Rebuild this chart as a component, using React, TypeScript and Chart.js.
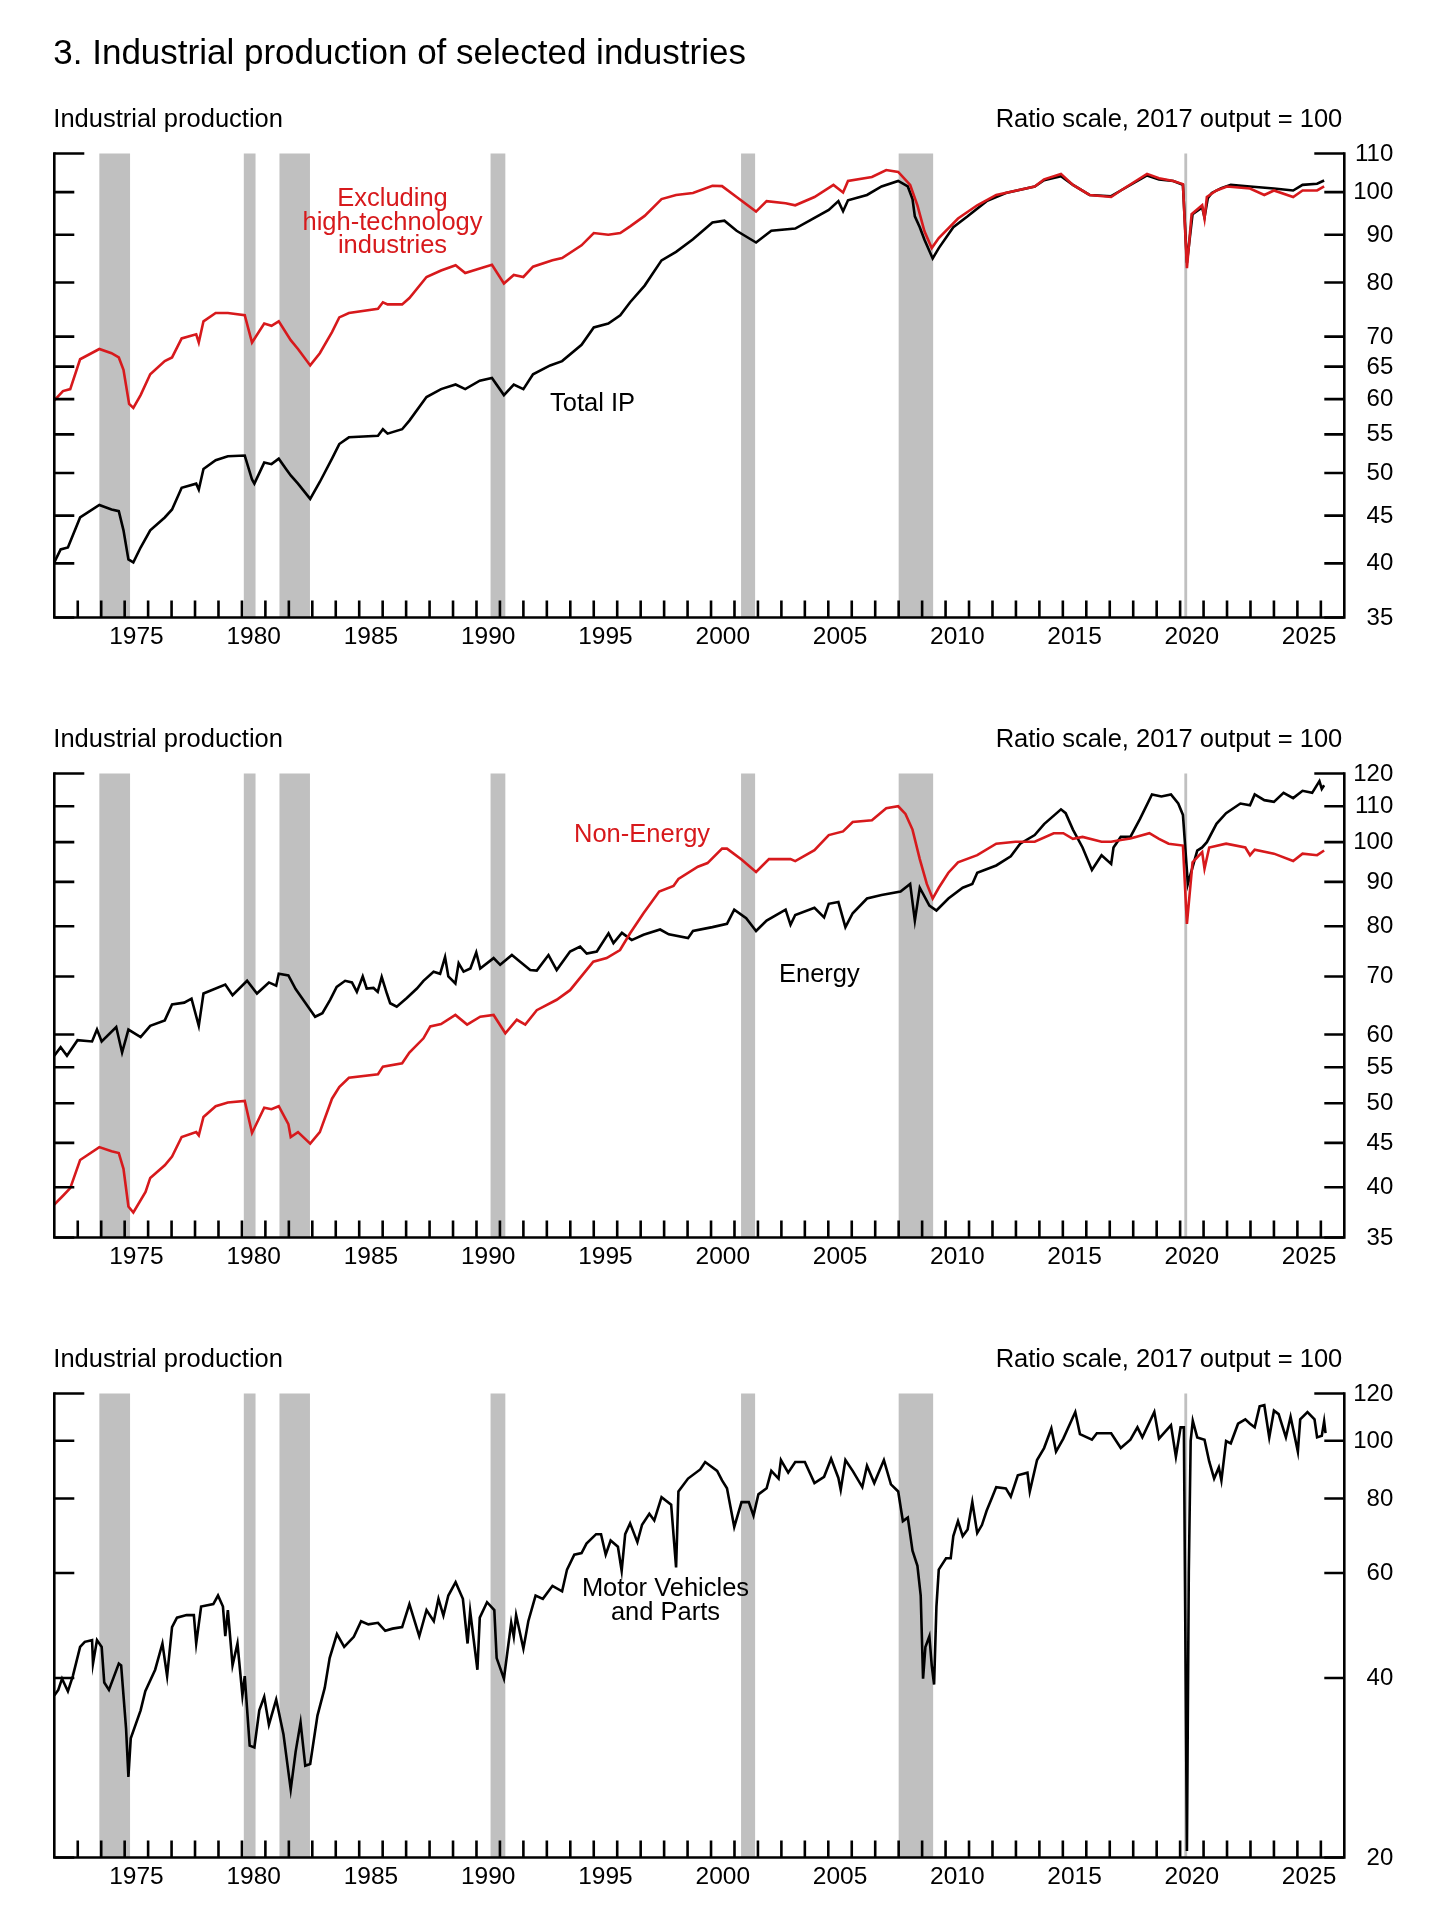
import { useEffect, useRef } from "react";
import { Chart, registerables } from "chart.js";
import type { ChartConfiguration, Plugin } from "chart.js";

Chart.register(...registerables);

const FONT = '"Liberation Sans", Arial, Helvetica, sans-serif';
const RED = "#d7191c";
const BLACK = "#000000";
const SHADE = "#c0c0c0";

type Pt = [number, number];

// NBER recessions, peak to trough (decimal years)
const recessions: Pt[] = [
  [1973.92, 1975.23],
  [1980.08, 1980.58],
  [1981.6, 1982.9],
  [1990.6, 1991.23],
  [2001.28, 2001.88],
  [2008.0, 2009.47],
  [2020.18, 2020.3],
];

const yearLabels = [1975, 1980, 1985, 1990, 1995, 2000, 2005, 2010, 2015, 2020, 2025];

const ticksTop = [110, 100, 90, 80, 70, 65, 60, 55, 50, 45, 40, 35];
const ticksMid = [120, 110, 100, 90, 80, 70, 60, 55, 50, 45, 40, 35];
const ticksBottom = [120, 100, 80, 60, 40, 20];

const totalIP: Pt[] = [
  [1972.0, 40.1], [1972.27, 41.4], [1972.58, 41.6], [1973.1, 44.8], [1973.92, 46.2],
  [1974.44, 45.7], [1974.75, 45.5], [1974.95, 43.4], [1975.16, 40.4], [1975.37, 40.1],
  [1975.68, 41.6], [1976.09, 43.4], [1976.71, 44.8], [1977.02, 45.7], [1977.43, 48.2],
  [1978.05, 48.7], [1978.16, 48.0], [1978.36, 50.5], [1978.88, 51.6], [1979.4, 52.1],
  [1980.12, 52.2], [1980.43, 49.2], [1980.53, 48.7], [1980.95, 51.3], [1981.26, 51.1],
  [1981.57, 51.8], [1981.88, 50.5], [1982.08, 49.7], [1982.39, 48.7], [1982.91, 46.9],
  [1983.32, 48.9], [1983.84, 51.8], [1984.15, 53.7], [1984.56, 54.6], [1985.8, 54.8],
  [1986.01, 55.7], [1986.21, 55.1], [1986.83, 55.7], [1987.14, 56.9], [1987.87, 60.3],
  [1988.49, 61.5], [1989.11, 62.2], [1989.52, 61.5], [1990.14, 62.8], [1990.66, 63.2],
  [1991.17, 60.6], [1991.59, 62.2], [1992.0, 61.5], [1992.41, 63.8], [1993.14, 65.2],
  [1993.65, 65.9], [1994.48, 68.6], [1995.0, 71.6], [1995.62, 72.3], [1996.13, 73.8],
  [1996.55, 76.2], [1997.17, 79.4], [1997.89, 84.5], [1998.51, 86.3], [1999.23, 89.0],
  [2000.06, 92.8], [2000.57, 93.2], [2001.09, 90.9], [2001.92, 88.3], [2002.57, 90.9],
  [2003.59, 91.4], [2004.2, 93.2], [2005.02, 95.7], [2005.43, 97.8], [2005.63, 95.4],
  [2005.84, 98.0], [2006.65, 99.3], [2007.27, 101.4], [2007.98, 102.8], [2008.39, 101.4],
  [2008.59, 98.3], [2008.69, 94.2], [2008.9, 91.7], [2009.1, 88.9], [2009.45, 84.9],
  [2009.71, 87.1], [2010.33, 91.7], [2010.94, 94.2], [2011.75, 97.8], [2012.57, 99.8],
  [2013.8, 101.4], [2014.2, 103.0], [2014.92, 104.0], [2015.43, 101.8], [2016.14, 99.3],
  [2017.06, 99.0], [2017.47, 100.4], [2018.59, 104.2], [2019.1, 103.2], [2019.71, 102.8],
  [2020.12, 101.8], [2020.29, 84.0], [2020.53, 94.7], [2020.94, 96.3], [2021.04, 94.0],
  [2021.18, 98.5], [2021.35, 99.8], [2021.75, 101.0], [2022.16, 101.8], [2022.98, 101.4],
  [2024.0, 100.9], [2024.82, 100.4], [2025.22, 101.8], [2025.84, 102.1], [2026.14, 102.9],
];

const exHighTech: Pt[] = [
  [1972.0, 59.8], [1972.37, 61.2], [1972.68, 61.5], [1973.1, 66.2], [1973.92, 67.9],
  [1974.44, 67.2], [1974.75, 66.5], [1974.95, 64.5], [1975.19, 59.3], [1975.37, 58.7],
  [1975.68, 60.6], [1976.09, 63.8], [1976.71, 65.9], [1977.02, 66.5], [1977.43, 69.7],
  [1978.05, 70.4], [1978.16, 69.0], [1978.36, 72.7], [1978.88, 74.2], [1979.4, 74.2],
  [1980.12, 73.8], [1980.43, 69.0], [1980.95, 72.3], [1981.26, 71.9], [1981.57, 72.7],
  [1982.08, 69.4], [1982.39, 67.9], [1982.91, 65.2], [1983.32, 67.2], [1983.84, 70.8],
  [1984.15, 73.4], [1984.56, 74.2], [1985.8, 75.0], [1986.01, 76.2], [1986.21, 75.8],
  [1986.83, 75.8], [1987.14, 77.0], [1987.87, 81.1], [1988.49, 82.4], [1989.11, 83.5],
  [1989.52, 81.9], [1990.14, 82.8], [1990.66, 83.6], [1991.17, 79.8], [1991.59, 81.5],
  [1992.0, 81.1], [1992.41, 83.2], [1993.24, 84.5], [1993.65, 85.0], [1994.48, 87.7],
  [1995.0, 90.4], [1995.62, 90.0], [1996.13, 90.4], [1996.55, 91.9], [1997.17, 94.3],
  [1997.89, 98.3], [1998.51, 99.3], [1999.23, 99.8], [2000.06, 101.6], [2000.47, 101.5],
  [2001.09, 98.8], [2001.92, 95.3], [2002.37, 97.8], [2003.18, 97.3], [2003.59, 96.8],
  [2004.41, 98.8], [2005.22, 101.8], [2005.63, 99.9], [2005.84, 102.8], [2006.86, 103.8],
  [2007.47, 105.6], [2007.98, 105.1], [2008.49, 101.8], [2008.8, 96.8], [2009.1, 90.8],
  [2009.41, 87.1], [2009.71, 89.3], [2010.53, 93.7], [2011.35, 96.8], [2012.16, 99.3],
  [2013.8, 101.4], [2014.2, 103.2], [2014.92, 104.6], [2015.43, 101.8], [2016.14, 99.3],
  [2017.06, 98.8], [2017.47, 100.4], [2018.59, 104.6], [2019.1, 103.5], [2019.71, 102.8],
  [2020.12, 102.0], [2020.29, 82.9], [2020.49, 94.7], [2020.94, 96.8], [2021.04, 93.7],
  [2021.14, 98.8], [2021.55, 100.4], [2022.0, 101.4], [2022.98, 100.9], [2023.59, 99.3],
  [2024.0, 100.4], [2024.82, 98.8], [2025.22, 100.4], [2025.84, 100.4], [2026.14, 101.4],
];

const energy: Pt[] = [
  [1972.0, 56.7], [1972.27, 58.0], [1972.54, 56.7], [1972.99, 59.1], [1973.61, 58.9],
  [1973.82, 60.8], [1974.02, 58.9], [1974.64, 61.2], [1974.89, 57.2], [1975.16, 60.8],
  [1975.68, 59.6], [1976.09, 61.4], [1976.71, 62.3], [1977.02, 65.0], [1977.54, 65.3],
  [1977.85, 66.0], [1978.16, 61.4], [1978.36, 66.9], [1979.29, 68.5], [1979.6, 66.6],
  [1980.22, 69.2], [1980.64, 66.9], [1981.15, 68.9], [1981.46, 68.3], [1981.57, 70.5],
  [1981.98, 70.2], [1982.29, 67.7], [1982.7, 65.3], [1983.12, 62.9], [1983.43, 63.5],
  [1983.76, 65.8], [1984.04, 68.1], [1984.4, 69.2], [1984.69, 68.9], [1984.9, 67.2],
  [1985.15, 70.0], [1985.32, 67.8], [1985.61, 67.9], [1985.79, 67.2], [1985.96, 69.9],
  [1986.18, 66.9], [1986.32, 65.2], [1986.6, 64.6], [1987.03, 66.1], [1987.46, 67.8],
  [1987.74, 69.2], [1988.17, 70.9], [1988.45, 70.5], [1988.66, 73.7], [1988.8, 70.0],
  [1989.1, 68.7], [1989.24, 72.5], [1989.45, 70.9], [1989.74, 71.5], [1989.99, 74.6],
  [1990.16, 71.5], [1990.73, 73.5], [1991.01, 72.2], [1991.51, 74.1], [1991.86, 72.8],
  [1992.29, 71.2], [1992.57, 71.1], [1993.07, 74.1], [1993.42, 71.2], [1993.99, 74.8],
  [1994.42, 75.8], [1994.7, 74.4], [1995.13, 74.8], [1995.63, 78.5], [1995.84, 76.5],
  [1996.2, 78.6], [1996.62, 77.1], [1997.12, 78.2], [1997.83, 79.3], [1998.2, 78.3],
  [1999.02, 77.5], [1999.23, 79.0], [2000.06, 79.8], [2000.68, 80.5], [2000.99, 83.6],
  [2001.5, 81.7], [2001.92, 79.0], [2002.37, 81.2], [2003.18, 83.6], [2003.39, 80.3],
  [2003.59, 82.4], [2004.41, 84.0], [2004.82, 81.9], [2005.02, 84.9], [2005.43, 85.3],
  [2005.73, 79.8], [2006.04, 82.8], [2006.65, 86.1], [2007.27, 86.9], [2008.08, 87.7],
  [2008.49, 89.5], [2008.69, 81.2], [2008.9, 88.6], [2009.31, 84.5], [2009.61, 83.4],
  [2010.12, 86.1], [2010.73, 88.6], [2011.14, 89.5], [2011.35, 92.2], [2012.16, 94.0],
  [2012.78, 96.3], [2013.18, 99.6], [2013.8, 101.9], [2014.2, 104.9], [2014.92, 109.1],
  [2015.12, 108.0], [2015.43, 103.4], [2015.84, 98.6], [2016.24, 92.9], [2016.65, 96.6],
  [2017.06, 94.4], [2017.16, 98.6], [2017.47, 101.4], [2017.88, 101.4], [2018.29, 106.4],
  [2018.8, 113.5], [2019.2, 112.9], [2019.61, 113.5], [2019.92, 110.8], [2020.12, 107.5],
  [2020.33, 89.5], [2020.73, 97.8], [2020.94, 98.6], [2021.14, 100.0], [2021.55, 105.0],
  [2021.96, 108.0], [2022.57, 110.8], [2022.98, 110.3], [2023.18, 113.5], [2023.59, 111.8],
  [2024.0, 111.3], [2024.41, 114.0], [2024.82, 112.4], [2025.22, 114.6], [2025.63, 114.0],
  [2025.94, 117.6], [2026.04, 115.2], [2026.14, 116.3],
];

const nonEnergy: Pt[] = [
  [1972.0, 38.2], [1972.37, 39.1], [1972.68, 39.9], [1973.1, 43.0], [1973.92, 44.5],
  [1974.44, 44.0], [1974.75, 43.8], [1974.95, 42.0], [1975.16, 38.0], [1975.37, 37.4],
  [1975.89, 39.5], [1976.09, 41.0], [1976.71, 42.4], [1977.02, 43.4], [1977.43, 45.7],
  [1978.05, 46.3], [1978.16, 45.9], [1978.36, 48.2], [1978.88, 49.6], [1979.4, 50.1],
  [1980.12, 50.3], [1980.43, 46.2], [1980.95, 49.4], [1981.26, 49.2], [1981.57, 49.6],
  [1981.98, 47.3], [1982.08, 45.7], [1982.39, 46.3], [1982.91, 44.9], [1983.32, 46.3],
  [1983.84, 50.6], [1984.15, 52.2], [1984.56, 53.5], [1985.8, 54.0], [1986.01, 55.1],
  [1986.83, 55.6], [1987.14, 57.2], [1987.74, 59.4], [1988.03, 61.3], [1988.49, 61.7],
  [1989.1, 63.2], [1989.6, 61.6], [1990.16, 62.9], [1990.73, 63.2], [1991.23, 60.2],
  [1991.72, 62.4], [1992.08, 61.6], [1992.57, 64.0], [1993.42, 65.8], [1993.99, 67.5],
  [1994.98, 72.8], [1995.55, 73.5], [1996.12, 75.1], [1996.55, 78.5], [1997.12, 82.8],
  [1997.79, 87.7], [1998.4, 89.0], [1998.61, 90.7], [1999.44, 93.7], [1999.85, 94.6],
  [2000.47, 98.3], [2000.68, 98.3], [2001.3, 95.5], [2001.92, 92.4], [2002.47, 95.6],
  [2003.39, 95.6], [2003.59, 95.1], [2004.41, 97.9], [2005.02, 101.9], [2005.63, 102.9],
  [2006.04, 105.5], [2006.86, 106.0], [2007.47, 109.4], [2007.98, 110.0], [2008.29, 107.8],
  [2008.59, 103.4], [2008.9, 95.6], [2009.2, 89.5], [2009.45, 86.1], [2009.71, 88.6],
  [2010.12, 92.2], [2010.53, 94.8], [2011.35, 96.6], [2012.16, 99.6], [2012.98, 100.1],
  [2013.8, 100.1], [2014.61, 102.4], [2015.02, 102.4], [2015.43, 100.9], [2015.84, 101.4],
  [2016.65, 100.1], [2017.06, 100.1], [2017.47, 100.6], [2017.88, 101.0], [2018.69, 102.4],
  [2019.1, 100.9], [2019.51, 99.6], [2020.12, 99.1], [2020.29, 80.5], [2020.53, 94.8],
  [2020.94, 97.4], [2021.04, 93.2], [2021.24, 98.6], [2021.96, 99.6], [2022.78, 98.6],
  [2022.98, 96.6], [2023.18, 98.0], [2024.0, 97.0], [2024.82, 95.1], [2025.22, 97.0],
  [2025.84, 96.6], [2026.14, 97.8],
];

const motorVehicles: Pt[] = [
  [1972.0, 37.4], [1972.17, 38.2], [1972.33, 39.9], [1972.58, 38.0], [1972.79, 40.3],
  [1973.1, 45.1], [1973.3, 46.0], [1973.61, 46.3], [1973.65, 42.3], [1973.82, 46.3],
  [1974.02, 45.1], [1974.13, 39.3], [1974.33, 38.2], [1974.75, 42.3], [1974.85, 42.0],
  [1975.06, 32.9], [1975.16, 27.3], [1975.26, 31.7], [1975.68, 35.3], [1975.88, 38.0],
  [1976.3, 41.3], [1976.61, 45.7], [1976.81, 40.3], [1977.02, 48.7], [1977.23, 50.5],
  [1977.64, 51.0], [1977.95, 51.0], [1978.05, 45.7], [1978.26, 52.7], [1978.78, 53.2],
  [1978.98, 55.0], [1979.19, 52.7], [1979.29, 47.0], [1979.4, 52.0], [1979.6, 42.0],
  [1979.81, 45.7], [1980.02, 37.4], [1980.12, 40.3], [1980.33, 30.8], [1980.53, 30.6],
  [1980.74, 35.3], [1980.95, 37.2], [1981.15, 33.4], [1981.46, 36.8], [1981.77, 32.2],
  [1982.08, 26.0], [1982.29, 30.1], [1982.5, 33.7], [1982.7, 28.5], [1982.91, 28.7],
  [1983.22, 34.6], [1983.53, 38.5], [1983.74, 43.2], [1984.05, 47.4], [1984.36, 45.1],
  [1984.77, 46.9], [1985.08, 49.8], [1985.39, 49.2], [1985.8, 49.5], [1986.11, 48.0],
  [1986.42, 48.4], [1986.83, 48.7], [1987.14, 53.2], [1987.56, 47.0], [1987.87, 52.0],
  [1988.18, 49.8], [1988.38, 54.3], [1988.59, 50.9], [1988.8, 55.0], [1989.11, 57.9],
  [1989.42, 54.3], [1989.62, 45.7], [1989.73, 51.8], [1990.04, 41.3], [1990.14, 50.5],
  [1990.45, 53.6], [1990.76, 52.0], [1990.86, 43.2], [1991.17, 39.9], [1991.48, 49.5],
  [1991.59, 46.9], [1991.69, 51.0], [1992.0, 44.8], [1992.21, 49.8], [1992.52, 55.0],
  [1992.83, 54.3], [1993.24, 57.1], [1993.65, 55.9], [1993.86, 60.8], [1994.17, 64.4],
  [1994.48, 64.8], [1994.69, 67.2], [1995.1, 69.7], [1995.31, 69.7], [1995.51, 64.4],
  [1995.72, 68.0], [1996.03, 66.4], [1996.19, 60.5], [1996.34, 69.7], [1996.55, 72.7],
  [1996.86, 67.6], [1997.06, 72.3], [1997.37, 75.4], [1997.58, 73.5], [1997.89, 80.4],
  [1998.3, 78.1], [1998.51, 61.3], [1998.61, 82.2], [1999.02, 86.4], [1999.54, 89.5],
  [1999.75, 92.1], [2000.26, 89.0], [2000.47, 85.8], [2000.68, 83.2], [2000.99, 71.7],
  [2001.3, 78.9], [2001.61, 78.9], [2001.81, 74.9], [2002.02, 81.3], [2002.37, 83.2],
  [2002.57, 89.0], [2002.88, 86.4], [2002.98, 92.8], [2003.29, 88.4], [2003.59, 92.1],
  [2004.0, 92.1], [2004.41, 84.9], [2004.82, 87.0], [2005.12, 93.3], [2005.43, 86.6],
  [2005.53, 82.7], [2005.73, 92.8], [2006.04, 89.0], [2006.45, 83.6], [2006.65, 90.8],
  [2006.96, 84.9], [2007.37, 92.8], [2007.67, 84.5], [2007.98, 82.2], [2008.18, 73.3],
  [2008.39, 74.3], [2008.59, 65.4], [2008.8, 61.7], [2008.94, 55.0], [2009.04, 39.9],
  [2009.14, 45.1], [2009.31, 47.0], [2009.41, 42.0], [2009.51, 39.0], [2009.61, 52.7],
  [2009.71, 60.8], [2010.02, 63.5], [2010.22, 63.5], [2010.33, 69.2], [2010.53, 73.3],
  [2010.73, 69.2], [2010.94, 71.0], [2011.14, 78.9], [2011.35, 70.0], [2011.55, 72.2],
  [2011.75, 76.3], [2011.96, 79.9], [2012.16, 83.6], [2012.57, 83.2], [2012.78, 80.6],
  [2013.08, 87.5], [2013.49, 88.4], [2013.59, 82.2], [2013.9, 92.8], [2014.2, 97.2],
  [2014.51, 104.8], [2014.71, 95.9], [2015.02, 100.8], [2015.53, 111.7], [2015.73, 102.6],
  [2016.24, 100.4], [2016.45, 102.9], [2017.06, 102.9], [2017.47, 97.2], [2017.88, 100.4],
  [2018.18, 105.3], [2018.39, 101.3], [2018.9, 111.7], [2019.1, 100.8], [2019.61, 106.2],
  [2019.82, 94.0], [2020.02, 105.3], [2020.16, 105.3], [2020.29, 20.5], [2020.37, 60.0],
  [2020.45, 100.0], [2020.54, 108.0], [2020.73, 101.3], [2021.04, 100.4], [2021.24, 92.3],
  [2021.45, 86.4], [2021.65, 90.2], [2021.76, 85.8], [2021.96, 99.9], [2022.16, 99.0],
  [2022.47, 106.8], [2022.78, 108.6], [2022.98, 106.8], [2023.18, 105.3], [2023.39, 114.2],
  [2023.59, 114.7], [2023.8, 101.3], [2024.0, 112.3], [2024.2, 110.8], [2024.51, 101.3],
  [2024.71, 109.7], [2025.02, 95.9], [2025.12, 108.6], [2025.43, 111.7], [2025.73, 108.6],
  [2025.84, 101.3], [2026.04, 101.9], [2026.14, 107.8], [2026.2, 103.0],
];

interface Note {
  lines: string[];
  x: number;
  y: number;
  color: string;
  align: CanvasTextAlign;
}

interface Panel {
  yMin: number;
  yMax: number;
  yTicks: number[];
  series: { data: Pt[]; color: string; label: string }[];
  notes: Note[];
  withTitle: boolean;
}

// chart area inside each panel canvas; panels are stacked every 620px
const AREA_LEFT = 54.3;
const AREA_RIGHT = 1344.3;
const AREA_TOP = 153.5;
const AREA_BOTTOM = 617.5;
const CANVAS_W = 1451;
const CANVAS_H = 680;
const PANEL_STEP = 620;

const panels: Panel[] = [
  {
    yMin: 35,
    yMax: 110,
    yTicks: ticksTop,
    series: [
      { data: exHighTech, color: RED, label: "Excluding high-technology industries" },
      { data: totalIP, color: BLACK, label: "Total IP" },
    ],
    notes: [
      { lines: ["Excluding", "high-technology", "industries"], x: 392.5, y: 206, color: RED, align: "center" },
      { lines: ["Total IP"], x: 550, y: 411, color: BLACK, align: "left" },
    ],
    withTitle: true,
  },
  {
    yMin: 35,
    yMax: 120,
    yTicks: ticksMid,
    series: [
      { data: nonEnergy, color: RED, label: "Non-Energy" },
      { data: energy, color: BLACK, label: "Energy" },
    ],
    notes: [
      { lines: ["Non-Energy"], x: 574, y: 222, color: RED, align: "left" },
      { lines: ["Energy"], x: 779, y: 362, color: BLACK, align: "left" },
    ],
    withTitle: false,
  },
  {
    yMin: 20,
    yMax: 120,
    yTicks: ticksBottom,
    series: [{ data: motorVehicles, color: BLACK, label: "Motor Vehicles and Parts" }],
    notes: [
      { lines: ["Motor Vehicles", "and Parts"], x: 665.5, y: 356, color: BLACK, align: "center" },
    ],
    withTitle: false,
  },
];

function framePlugin(panel: Panel): Plugin<"line"> {
  return {
    id: "fedFrame",
    beforeDatasetsDraw(chart) {
      const { ctx, chartArea } = chart;
      const xs = chart.scales.x;
      ctx.save();
      ctx.fillStyle = SHADE;
      for (const [s, e] of recessions) {
        const x0 = xs.getPixelForValue(s);
        const x1 = xs.getPixelForValue(e);
        ctx.fillRect(x0, chartArea.top, Math.max(x1 - x0, 2.5), chartArea.bottom - chartArea.top);
      }
      ctx.restore();
    },
    afterDraw(chart) {
      const { ctx, chartArea } = chart;
      const { left, right, top, bottom } = chartArea;
      const xs = chart.scales.x;
      const ys = chart.scales.y;
      ctx.save();
      ctx.strokeStyle = BLACK;
      ctx.fillStyle = BLACK;
      ctx.lineWidth = 2.6;
      ctx.lineCap = "butt";

      // frame: left, right and bottom axis lines
      ctx.beginPath();
      ctx.moveTo(left, top - 1.3);
      ctx.lineTo(left, bottom);
      ctx.moveTo(right, top - 1.3);
      ctx.lineTo(right, bottom);
      ctx.moveTo(left - 1.3, bottom);
      ctx.lineTo(right + 1.3, bottom);
      ctx.stroke();

      // y ticks on both sides, pointing inward
      ctx.font = `24px ${FONT}`;
      ctx.textAlign = "right";
      ctx.textBaseline = "alphabetic";
      for (const v of panel.yTicks) {
        const y = ys.getPixelForValue(v);
        const len = v === panel.yMax ? 30 : 20;
        ctx.beginPath();
        ctx.moveTo(left, y);
        ctx.lineTo(left + len, y);
        ctx.moveTo(right - len, y);
        ctx.lineTo(right, y);
        ctx.stroke();
        ctx.fillText(String(v), right + 49, y + 7);
      }

      // x ticks each year, labels every five years centred on the year
      const xMin = xs.min;
      const xMax = xs.max;
      ctx.beginPath();
      for (let yr = Math.ceil(xMin) + 1; yr < xMax; yr++) {
        const x = xs.getPixelForValue(yr);
        ctx.moveTo(x, bottom);
        ctx.lineTo(x, bottom - 17);
      }
      ctx.stroke();
      ctx.font = `24.5px ${FONT}`;
      ctx.textAlign = "center";
      for (const yr of yearLabels) {
        ctx.fillText(String(yr), xs.getPixelForValue(yr + 0.5), bottom + 26);
      }

      // panel headers
      ctx.font = `25.5px ${FONT}`;
      ctx.textAlign = "left";
      ctx.fillText("Industrial production", left - 1, 127);
      ctx.textAlign = "right";
      ctx.fillText("Ratio scale, 2017 output = 100", right - 2, 127);

      if (panel.withTitle) {
        ctx.font = `35px ${FONT}`;
        ctx.textAlign = "left";
        ctx.fillText("3. Industrial production of selected industries", left - 1, 63.5);
      }

      // series labels
      ctx.font = `25.5px ${FONT}`;
      for (const n of panel.notes) {
        ctx.fillStyle = n.color;
        ctx.textAlign = n.align;
        n.lines.forEach((line, i) => ctx.fillText(line, n.x, n.y + i * 23.5));
      }
      ctx.restore();
    },
  };
}

const PanelChart = ({ panel }: { panel: Panel }) => {
  const canvasRef = useRef<HTMLCanvasElement | null>(null);

  useEffect(() => {
    const canvas = canvasRef.current;
    if (!canvas) return;

    const config: ChartConfiguration<"line", { x: number; y: number }[]> = {
      type: "line",
      data: {
        datasets: panel.series.map((s) => ({
          label: s.label,
          data: s.data.map(([x, y]) => ({ x, y })),
          borderColor: s.color,
          borderWidth: 2.6,
          pointRadius: 0,
          pointHoverRadius: 0,
          tension: 0,
          fill: false,
        })),
      },
      options: {
        responsive: false,
        animation: false,
        devicePixelRatio: 1,
        events: [],
        layout: {
          padding: {
            left: AREA_LEFT,
            right: CANVAS_W - AREA_RIGHT,
            top: AREA_TOP,
            bottom: CANVAS_H - AREA_BOTTOM,
          },
        },
        plugins: {
          legend: { display: false },
          tooltip: { enabled: false },
        },
        scales: {
          x: { type: "linear", min: 1972, max: 2027, display: false },
          y: { type: "logarithmic", min: panel.yMin, max: panel.yMax, display: false },
        },
      },
      plugins: [framePlugin(panel)],
    };

    const chart = new Chart(canvas, config);
    return () => chart.destroy();
  }, [panel]);

  return (
    <canvas
      ref={canvasRef}
      width={CANVAS_W}
      height={CANVAS_H}
      style={{ display: "block", width: CANVAS_W, height: CANVAS_H }}
    />
  );
};

export default function App() {
  return (
    <div
      style={{
        position: "absolute",
        left: 0,
        top: 0,
        width: CANVAS_W,
        height: 1920,
        background: "#ffffff",
        overflow: "hidden",
      }}
    >
      {panels.map((p, i) => (
        <div key={i} style={{ position: "absolute", left: 0, top: i * PANEL_STEP }}>
          <PanelChart panel={p} />
        </div>
      ))}
    </div>
  );
}
